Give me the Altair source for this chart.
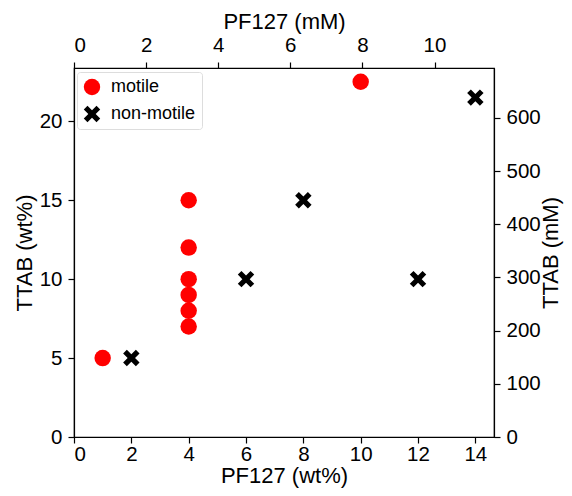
import altair as alt
import pandas as pd

motile_x = [1, 4, 4, 4, 4, 4, 4, 10]
motile_y = [5, 7, 8, 9, 10, 12, 15, 22.5]
nonmotile_x = [2, 6, 8, 12, 14]
nonmotile_y = [5, 10, 15, 10, 21.5]

x_max = 14.65
y_max = 23.375
mm_x_max = 11.65   # PF127 mM at x_max
mm_y_max = 694     # TTAB mM at y_max

rows = [{"pf": x, "ttab": y, "state": "motile"} for x, y in zip(motile_x, motile_y)]
rows += [{"pf": x, "ttab": y, "state": "non-motile"} for x, y in zip(nonmotile_x, nonmotile_y)]
df = pd.DataFrame(rows)

xpath = "M-1,-0.55 L-0.55,-1 L0,-0.45 L0.55,-1 L1,-0.55 L0.45,0 L1,0.55 L0.55,1 L0,0.45 L-0.55,1 L-1,0.55 L-0.45,0 Z"

font = "Liberation Sans"
LAB = 20.5
TIT = 22

pts = alt.Chart(df).mark_point(filled=True, opacity=1, size=270).encode(
    x=alt.X("pf:Q", scale=alt.Scale(domain=[0, x_max], nice=False, zero=True),
            axis=alt.Axis(title="PF127 (wt%)", values=[0, 2, 4, 6, 8, 10, 12, 14], orient="bottom",
                          labelPadding=1, titlePadding=1)),
    y=alt.Y("ttab:Q", scale=alt.Scale(domain=[0, y_max], nice=False),
            axis=alt.Axis(title="TTAB (wt%)", values=[0, 5, 10, 15, 20], orient="left",
                          labelPadding=6, titlePadding=3)),
    color=alt.Color("state:N", scale=alt.Scale(domain=["motile", "non-motile"], range=["#ff0000", "#000000"]),
                    legend=alt.Legend(title=None, orient="none", legendX=3, legendY=4)),
    shape=alt.Shape("state:N", scale=alt.Scale(domain=["motile", "non-motile"], range=["circle", xpath]),
                    legend=alt.Legend(title=None, orient="none", legendX=3, legendY=4)),
)

twin_df = pd.DataFrame({"mmx": [0, mm_x_max], "mmy": [0, mm_y_max]})
twin = alt.Chart(twin_df).mark_point(opacity=0).encode(
    x=alt.X("mmx:Q", scale=alt.Scale(domain=[0, mm_x_max], nice=False),
            axis=alt.Axis(title="PF127 (mM)", orient="top", values=[0, 2, 4, 6, 8, 10],
                          labelPadding=7, titlePadding=2)),
    y=alt.Y("mmy:Q", scale=alt.Scale(domain=[0, mm_y_max], nice=False),
            axis=alt.Axis(title="TTAB (mM)", orient="right", titleAngle=-90, titleBaseline="top",
                          labelPadding=6, titlePadding=0,
                          values=[0, 100, 200, 300, 400, 500, 600])),
)

chart = alt.layer(pts, twin).resolve_scale(x="independent", y="independent").properties(
    width=420, height=369,
    autosize=alt.AutoSizeParams(type="none"),
    padding={"left": 66, "top": 60, "right": 70, "bottom": 51},
).configure_view(stroke="black", strokeWidth=1.2).configure_axis(
    grid=False, domainColor="black", domainWidth=1.2, tickColor="black", tickWidth=1.2, tickSize=6,
    labelFont=font, titleFont=font, labelFontSize=LAB, titleFontSize=TIT, labelColor="black",
    titleColor="black", titleFontWeight="normal",
).configure_legend(
    labelFont=font, labelFontSize=18, labelColor="black", symbolSize=270, strokeColor="#dddddd",
    padding=6, cornerRadius=3, fillColor="white", rowPadding=9, symbolStrokeWidth=0, labelOffset=10,
)

chart.save("out.html", embed_options={"renderer": "svg", "actions": False})
